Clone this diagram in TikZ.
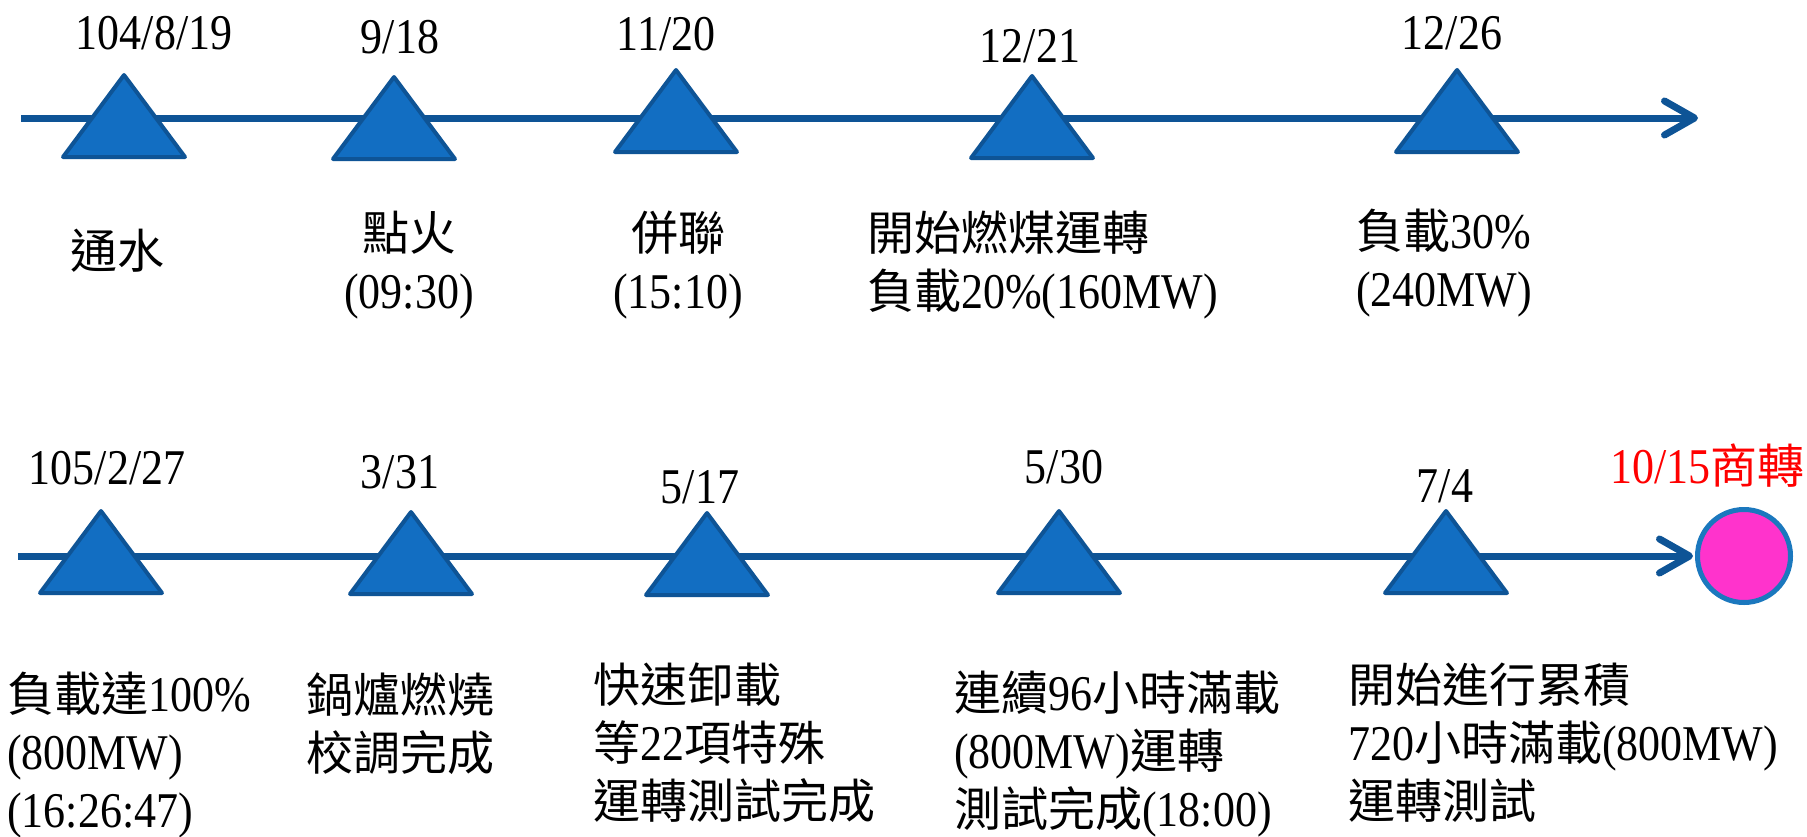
\documentclass[tikz,border=0pt]{standalone}
\usepackage{fontspec}
\setmainfont{Liberation Serif}[FakeStretch=0.88]
\newfontfamily\zhf{Noto Sans CJK TC}[Scale=0.94]
\newcommand\zh[1]{{\zhf #1}}
\usetikzlibrary{arrows.meta}
\definecolor{lineblue}{RGB}{14,84,150}
\definecolor{trifill}{RGB}{18,110,194}
\definecolor{circblue}{RGB}{27,120,190}
\definecolor{circfill}{RGB}{255,51,204}
\newcommand\milestone[2]{\draw[tri] (#1-61,#2) -- (#1,#2-82) -- (#1+61,#2) -- cycle;}
\begin{document}
\begin{tikzpicture}[x=1pt,y=-1pt,
  txt/.style={inner sep=0pt, font=\fontsize{50pt}{58pt}\selectfont},
  date/.style={txt, anchor=base},
  lab/.style={txt, anchor=base west, align=left},
  labc/.style={txt, anchor=base, align=center},
  axis/.style={draw=lineblue, line width=7pt, -{Straight Barb[length=30pt,width=34pt,line cap=round,line join=round]}},
  tri/.style={fill=trifill, draw=lineblue, line width=4pt, line join=round}]
\fill[white] (0,0) rectangle (1807,836);
\useasboundingbox (0,0) rectangle (1807,836);
% ---- top row ----
\coordinate (s1) at (21,118);
\coordinate (e1) at (1698,118);
\draw[axis] (s1) -- (e1);
\milestone{124}{157}
\milestone{394}{159}
\milestone{676}{152}
\milestone{1032}{158}
\milestone{1457}{152}
\node[date] (d1) at (154,49) {104/8/19};
\node[date] (d2) at (400,53) {9/18};
\node[date] (d3) at (666,50) {11/20};
\node[date] (d4) at (1030,62) {12/21};
\node[date] (d5) at (1452,49) {12/26};
\node[labc] (l1) at (117,268) {\zh{通水}};
\node[labc] (l2) at (409,308) {\zh{點火}\\(09:30)};
\node[labc] (l3) at (678,308) {\zh{併聯}\\(15:10)};
\node[lab] (l4) at (867,308) {\zh{開始燃煤運轉}\\\zh{負載}20\%(160MW)};
\node[lab] (l5) at (1356,306) {\zh{負載}30\%\\(240MW)};
% ---- bottom row ----
\node[circle, minimum size=93pt, inner sep=0pt, fill=circfill, draw=circblue, line width=5pt] (end) at (1744,556) {};
\coordinate (s2) at (18,556);
\draw[axis, shorten >=2pt] (s2) -- (end.west);
\milestone{101}{593}
\milestone{411}{594}
\milestone{707}{595}
\milestone{1059}{593}
\milestone{1446}{593}
\node[date] (d6) at (107,484) {105/2/27};
\node[date] (d7) at (400,488) {3/31};
\node[date] (d8) at (700,503) {5/17};
\node[date] (d9) at (1064,483) {5/30};
\node[date] (d10) at (1445,502) {7/4};
\node[txt, anchor=base west, text=red] (d11) at (1610,483) {10/15\zh{商轉}};
\node[lab] (l6) at (7,827) {\zh{負載達}100\%\\(800MW)\\(16:26:47)};
\node[lab] (l7) at (306,770) {\zh{鍋爐燃燒}\\\zh{校調完成}};
\node[lab] (l8) at (593,818) {\zh{快速卸載}\\\zh{等}22\zh{項特殊}\\\zh{運轉測試完成}};
\node[lab] (l9) at (954,826) {\zh{連續}96\zh{小時滿載}\\(800MW)\zh{運轉}\\\zh{測試完成}(18:00)};
\node[lab] (l10) at (1348,818) {\zh{開始進行累積}\\720\zh{小時滿載}(800MW)\\\zh{運轉測試}};
\end{tikzpicture}
\end{document}
